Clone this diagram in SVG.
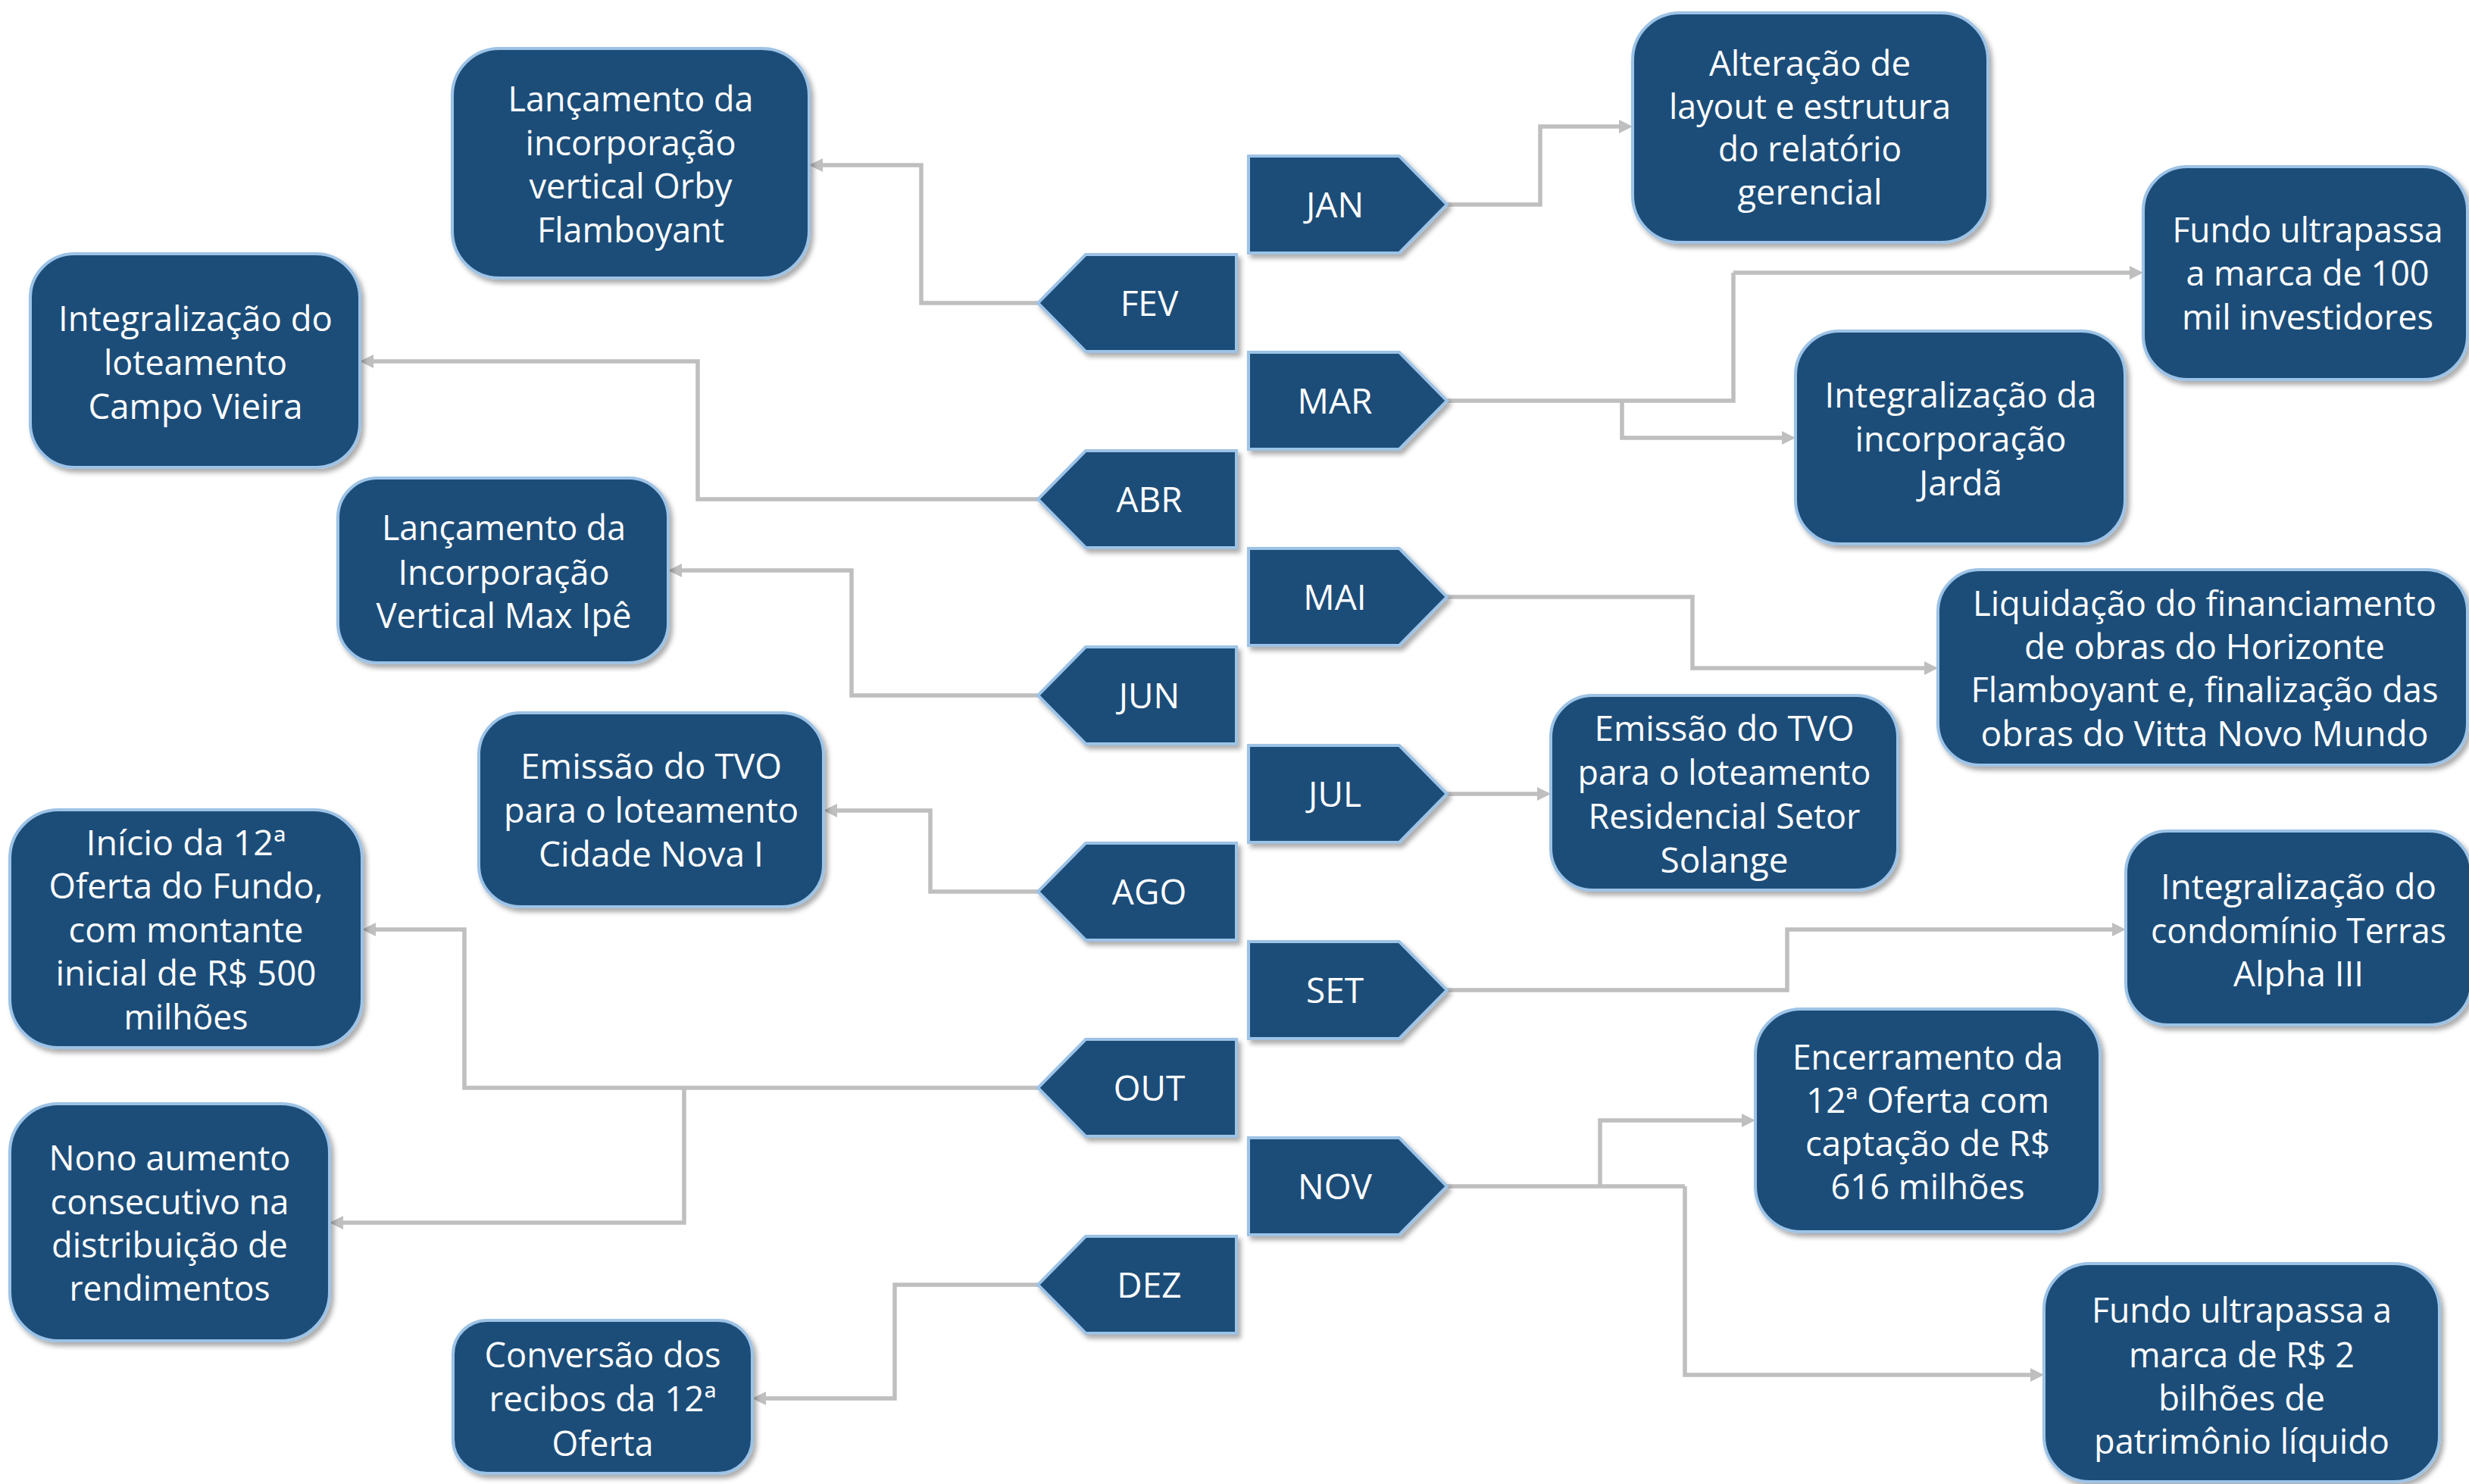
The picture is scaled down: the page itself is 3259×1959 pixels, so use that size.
<svg xmlns="http://www.w3.org/2000/svg" width="3259" height="1959" viewBox="0 0 3259 1959">
<defs>
<style>
.shape{fill:#1F4E79;stroke:#9DC3E6;stroke-width:4;filter:url(#sh)}
.t{font-family:'Open Sans','Noto Sans','DejaVu Sans',sans-serif;font-size:46px;fill:#fff;text-anchor:middle}
.c{fill:none;stroke:#BFBFBF;stroke-width:5.5;stroke-linejoin:miter}
.a{marker-end:url(#ah)}
</style>
<filter id="sh" x="-10%" y="-10%" width="125%" height="130%">
<feDropShadow dx="4" dy="5" stdDeviation="3" flood-color="#000" flood-opacity="0.33"/>
</filter>
<marker id="ah" markerUnits="userSpaceOnUse" markerWidth="18" markerHeight="18" refX="4" refY="9" orient="auto">
<path d="M0,0 L18,9 L0,18 z" fill="#BFBFBF"/>
</marker>
</defs>
<rect width="3259" height="1959" fill="#fff"/>

<g id="connectors">
<path class="c a" d="M1910 270 H2033 V167 H2141"/>
<path class="c" d="M1910 529 H2288 V360"/>
<path class="c a" d="M2288 360 H2815"/>
<path class="c a" d="M2141 529 V578 H2356"/>
<path class="c a" d="M1910 788 H2234 V882 H2544"/>
<path class="c a" d="M1910 1048 H2033"/>
<path class="c a" d="M1910 1307 H2359 V1227 H2792"/>
<path class="c" d="M1910 1566 H2224"/>
<path class="c a" d="M2112 1566 V1479 H2303"/>
<path class="c a" d="M2224 1566 V1815 H2684"/>
<path class="c a" d="M1370 400 H1216 V218 H1082"/>
<path class="c a" d="M1370 659 H921 V477 H489"/>
<path class="c a" d="M1370 918 H1124 V753 H896"/>
<path class="c a" d="M1370 1177 H1228 V1070 H1101"/>
<path class="c a" d="M1370 1436 H613 V1227 H492"/>
<path class="c a" d="M903 1436 V1614 H449"/>
<path class="c a" d="M1370 1696 H1181 V1846 H1007"/>
</g>

<g id="m-jan"><polygon class="shape" points="1648,206 1847,206 1910,270 1847,334 1648,334"/><text class="t" x="1762" y="287">JAN</text></g>
<g id="m-fev"><polygon class="shape" points="1632,336 1632,464 1433,464 1370,400 1433,336"/><text class="t" x="1517" y="417">FEV</text></g>
<g id="m-mar"><polygon class="shape" points="1648,465 1847,465 1910,529 1847,593 1648,593"/><text class="t" x="1762" y="546">MAR</text></g>
<g id="m-abr"><polygon class="shape" points="1632,595 1632,723 1433,723 1370,659 1433,595"/><text class="t" x="1517" y="676">ABR</text></g>
<g id="m-mai"><polygon class="shape" points="1648,724 1847,724 1910,788 1847,852 1648,852"/><text class="t" x="1762" y="805">MAI</text></g>
<g id="m-jun"><polygon class="shape" points="1632,854 1632,982 1433,982 1370,918 1433,854"/><text class="t" x="1517" y="935">JUN</text></g>
<g id="m-jul"><polygon class="shape" points="1648,984 1847,984 1910,1048 1847,1112 1648,1112"/><text class="t" x="1762" y="1065">JUL</text></g>
<g id="m-ago"><polygon class="shape" points="1632,1113 1632,1241 1433,1241 1370,1177 1433,1113"/><text class="t" x="1517" y="1194">AGO</text></g>
<g id="m-set"><polygon class="shape" points="1648,1243 1847,1243 1910,1307 1847,1371 1648,1371"/><text class="t" x="1762" y="1324">SET</text></g>
<g id="m-out"><polygon class="shape" points="1632,1372 1632,1500 1433,1500 1370,1436 1433,1372"/><text class="t" x="1517" y="1453">OUT</text></g>
<g id="m-nov"><polygon class="shape" points="1648,1502 1847,1502 1910,1566 1847,1630 1648,1630"/><text class="t" x="1762" y="1583">NOV</text></g>
<g id="m-dez"><polygon class="shape" points="1632,1632 1632,1760 1433,1760 1370,1696 1433,1632"/><text class="t" x="1517" y="1713">DEZ</text></g>

<g id="b-orby"><rect class="shape" x="597" y="64" width="471" height="303" rx="62"/>
<text class="t" x="832.5" y="147" textLength="324" lengthAdjust="spacingAndGlyphs">Lançamento da</text>
<text class="t" x="832.5" y="205" textLength="278" lengthAdjust="spacingAndGlyphs">incorporação</text>
<text class="t" x="832.5" y="262" textLength="268" lengthAdjust="spacingAndGlyphs">vertical Orby</text>
<text class="t" x="832.5" y="320" textLength="247" lengthAdjust="spacingAndGlyphs">Flamboyant</text></g>

<g id="b-alteracao"><rect class="shape" x="2155" y="17" width="469" height="303" rx="62"/>
<text class="t" x="2389" y="100" textLength="266" lengthAdjust="spacingAndGlyphs">Alteração de</text>
<text class="t" x="2389" y="157" textLength="372" lengthAdjust="spacingAndGlyphs">layout e estrutura</text>
<text class="t" x="2389" y="213" textLength="242" lengthAdjust="spacingAndGlyphs">do relatório</text>
<text class="t" x="2389" y="270" textLength="191" lengthAdjust="spacingAndGlyphs">gerencial</text></g>

<g id="b-fundo100"><rect class="shape" x="2829" y="220" width="428" height="281" rx="58"/>
<text class="t" x="3046" y="320" textLength="357" lengthAdjust="spacingAndGlyphs">Fundo ultrapassa</text>
<text class="t" x="3046" y="377" textLength="321" lengthAdjust="spacingAndGlyphs">a marca de 100</text>
<text class="t" x="3046" y="435" textLength="332" lengthAdjust="spacingAndGlyphs">mil investidores</text></g>

<g id="b-jarda"><rect class="shape" x="2370" y="437" width="435" height="281" rx="58"/>
<text class="t" x="2588" y="538" textLength="359" lengthAdjust="spacingAndGlyphs">Integralização da</text>
<text class="t" x="2588" y="596" textLength="279" lengthAdjust="spacingAndGlyphs">incorporação</text>
<text class="t" x="2588" y="654" textLength="110" lengthAdjust="spacingAndGlyphs">Jardã</text></g>

<g id="b-campo"><rect class="shape" x="40" y="335" width="435" height="282" rx="58"/>
<text class="t" x="258" y="437" textLength="362" lengthAdjust="spacingAndGlyphs">Integralização do</text>
<text class="t" x="258" y="495" textLength="242" lengthAdjust="spacingAndGlyphs">loteamento</text>
<text class="t" x="258" y="553" textLength="283" lengthAdjust="spacingAndGlyphs">Campo Vieira</text></g>

<g id="b-maxipe"><rect class="shape" x="446" y="631" width="436" height="244" rx="52"/>
<text class="t" x="665" y="713" textLength="322" lengthAdjust="spacingAndGlyphs">Lançamento da</text>
<text class="t" x="665" y="772" textLength="279" lengthAdjust="spacingAndGlyphs">Incorporação</text>
<text class="t" x="665" y="829" textLength="337" lengthAdjust="spacingAndGlyphs">Vertical Max Ipê</text></g>

<g id="b-liquidacao"><rect class="shape" x="2558" y="752" width="699" height="258" rx="55"/>
<text class="t" x="2910" y="813" textLength="612" lengthAdjust="spacingAndGlyphs">Liquidação do financiamento</text>
<text class="t" x="2910" y="870" textLength="476" lengthAdjust="spacingAndGlyphs">de obras do Horizonte</text>
<text class="t" x="2910" y="927" textLength="617" lengthAdjust="spacingAndGlyphs">Flamboyant e, finalização das</text>
<text class="t" x="2910" y="985" textLength="591" lengthAdjust="spacingAndGlyphs">obras do Vitta Novo Mundo</text></g>

<g id="b-solange"><rect class="shape" x="2047" y="918" width="458" height="257" rx="55"/>
<text class="t" x="2276" y="978" textLength="343" lengthAdjust="spacingAndGlyphs">Emissão do TVO</text>
<text class="t" x="2276" y="1036" textLength="387" lengthAdjust="spacingAndGlyphs">para o loteamento</text>
<text class="t" x="2276" y="1094" textLength="359" lengthAdjust="spacingAndGlyphs">Residencial Setor</text>
<text class="t" x="2276" y="1152" textLength="169" lengthAdjust="spacingAndGlyphs">Solange</text></g>

<g id="b-cidadenova"><rect class="shape" x="632" y="941" width="455" height="256" rx="55"/>
<text class="t" x="859.5" y="1028" textLength="345" lengthAdjust="spacingAndGlyphs">Emissão do TVO</text>
<text class="t" x="859.5" y="1086" textLength="389" lengthAdjust="spacingAndGlyphs">para o loteamento</text>
<text class="t" x="859.5" y="1144" textLength="297" lengthAdjust="spacingAndGlyphs">Cidade Nova I</text></g>

<g id="b-terras"><rect class="shape" x="2806" y="1097" width="456" height="256" rx="55"/>
<text class="t" x="3034" y="1187" textLength="364" lengthAdjust="spacingAndGlyphs">Integralização do</text>
<text class="t" x="3034" y="1245" textLength="390" lengthAdjust="spacingAndGlyphs">condomínio Terras</text>
<text class="t" x="3034" y="1302" textLength="172" lengthAdjust="spacingAndGlyphs">Alpha III</text></g>

<g id="b-inicio"><rect class="shape" x="13" y="1069" width="465" height="314" rx="64"/>
<text class="t" x="245.5" y="1129" textLength="264" lengthAdjust="spacingAndGlyphs">Início da 12ª</text>
<text class="t" x="245.5" y="1186" textLength="362" lengthAdjust="spacingAndGlyphs">Oferta do Fundo,</text>
<text class="t" x="245.5" y="1244" textLength="310" lengthAdjust="spacingAndGlyphs">com montante</text>
<text class="t" x="245.5" y="1301" textLength="344" lengthAdjust="spacingAndGlyphs">inicial de R$ 500</text>
<text class="t" x="245.5" y="1359" textLength="164" lengthAdjust="spacingAndGlyphs">milhões</text></g>

<g id="b-nono"><rect class="shape" x="13" y="1457" width="422" height="313" rx="64"/>
<text class="t" x="224" y="1545" textLength="319" lengthAdjust="spacingAndGlyphs">Nono aumento</text>
<text class="t" x="224" y="1603" textLength="315" lengthAdjust="spacingAndGlyphs">consecutivo na</text>
<text class="t" x="224" y="1660" textLength="312" lengthAdjust="spacingAndGlyphs">distribuição de</text>
<text class="t" x="224" y="1717" textLength="265" lengthAdjust="spacingAndGlyphs">rendimentos</text></g>

<g id="b-encerramento"><rect class="shape" x="2317" y="1332" width="455" height="294" rx="60"/>
<text class="t" x="2544.5" y="1412" textLength="357" lengthAdjust="spacingAndGlyphs">Encerramento da</text>
<text class="t" x="2544.5" y="1469" textLength="321" lengthAdjust="spacingAndGlyphs">12ª Oferta com</text>
<text class="t" x="2544.5" y="1526" textLength="323" lengthAdjust="spacingAndGlyphs">captação de R$</text>
<text class="t" x="2544.5" y="1583" textLength="256" lengthAdjust="spacingAndGlyphs">616 milhões</text></g>

<g id="b-fundo2bi"><rect class="shape" x="2698" y="1668" width="522" height="288" rx="60"/>
<text class="t" x="2959" y="1746" textLength="396" lengthAdjust="spacingAndGlyphs">Fundo ultrapassa a</text>
<text class="t" x="2959" y="1805" textLength="298" lengthAdjust="spacingAndGlyphs">marca de R$ 2</text>
<text class="t" x="2959" y="1862" textLength="220" lengthAdjust="spacingAndGlyphs">bilhões de</text>
<text class="t" x="2959" y="1919" textLength="390" lengthAdjust="spacingAndGlyphs">patrimônio líquido</text></g>

<g id="b-conversao"><rect class="shape" x="598" y="1743" width="395" height="202" rx="45"/>
<text class="t" x="795.5" y="1805" textLength="312" lengthAdjust="spacingAndGlyphs">Conversão dos</text>
<text class="t" x="795.5" y="1863" textLength="300" lengthAdjust="spacingAndGlyphs">recibos da 12ª</text>
<text class="t" x="795.5" y="1922" textLength="134" lengthAdjust="spacingAndGlyphs">Oferta</text></g>
</svg>
